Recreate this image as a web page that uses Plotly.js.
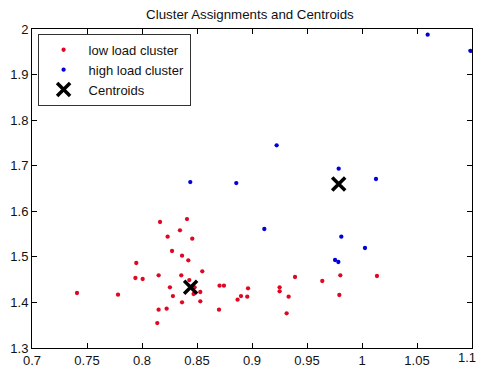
<!DOCTYPE html>
<html>
<head>
<meta charset="utf-8">
<script src="https://cdn.plot.ly/plotly-3.0.1.min.js"></script>
<style>html,body{margin:0;padding:0;background:#fff;}#chart{width:477px;height:368px;}</style>
</head>
<body>
<div id="chart"></div>
<script>
// Low load cluster (red)
var lowX = [0.7409,0.7782,0.7948,0.7940,0.8006,0.8164,0.8409,0.8345,0.8233,0.8457,0.8273,0.8364,0.8421,0.8151,0.8357,0.8548,0.8430,0.8254,0.8281,0.8364,0.8469,0.8478,0.8530,0.8530,0.8151,0.8224,0.8139,0.8700,0.8705,0.8745,0.8869,0.8900,0.8957,0.8964,0.9251,0.9251,0.9333,0.9315,0.9391,0.9639,0.9803,0.9794,1.0136];
var lowY = [1.4207,1.4170,1.4865,1.4536,1.4514,1.5765,1.5830,1.5582,1.5442,1.5398,1.5128,1.5025,1.4924,1.4595,1.4595,1.4683,1.4490,1.4332,1.4140,1.4003,1.4185,1.4332,1.4229,1.4025,1.3840,1.3862,1.3548,1.3840,1.4367,1.4367,1.4060,1.4140,1.4126,1.4310,1.4332,1.4244,1.4126,1.3761,1.4558,1.4470,1.4595,1.4163,1.4580];
// High load cluster (blue)
var highX = [0.8439,0.8857,0.9224,0.9788,1.0127,0.9112,0.9812,1.0027,0.9755,0.9785,1.0597,1.0985];
var highY = [1.6640,1.6620,1.7447,1.6935,1.6708,1.5611,1.5443,1.5194,1.4931,1.4887,1.9875,1.9520];
// Centroids
var centX = [0.8442,0.9788];
var centY = [1.4332,1.6599];
var seriesNames = ["low load cluster","high load cluster","Centroids"];
var xTicks = [0.7,0.75,0.8,0.85,0.9,0.95,1,1.05,1.1];
var xTickText = ["0.7","0.75","0.8","0.85","0.9","0.95","1","1.05",""];
var xEdgeTicks = [1.1];
var xEdgeTickText = ["1.1"];
var yTicks = [1.3,1.4,1.5,1.6,1.7,1.8,1.9,2];
var yTickText = ["1.3","1.4","1.5","1.6","1.7","1.8","1.9","2"];

var font = "Liberation Sans, Arial, Helvetica, sans-serif";
var traces = [
  {x: lowX, y: lowY, name: seriesNames[0], type: "scatter", mode: "markers",
   marker: {symbol: "circle", size: 4.3, color: "rgb(222,8,36)", line: {width: 0}}},
  {x: highX, y: highY, name: seriesNames[1], type: "scatter", mode: "markers",
   marker: {symbol: "circle", size: 4.3, color: "rgb(0,0,215)", line: {width: 0}}},
  {x: centX, y: centY, name: seriesNames[2], type: "scatter", mode: "markers", xaxis: "x2", yaxis: "y",
   marker: {symbol: "x-thin-open", size: 13, color: "#000", line: {width: 3.5, color: "#000"}}}
];
var axisCommon = {
  showgrid: false, zeroline: false, showline: true, linecolor: "#000", linewidth: 1,
  mirror: "ticks", ticks: "inside", ticklen: 5, tickcolor: "#000", tickwidth: 1,
  tickfont: {family: font, size: 13, color: "#111"}
};
var layout = {
  width: 477, height: 368,
  margin: {l: 32, r: 5, t: 29, b: 20},
  paper_bgcolor: "#fff", plot_bgcolor: "#fff",
  title: {text: "Cluster Assignments and Centroids", font: {family: font, size: 13.3, color: "#111"},
          x: 0.524, xanchor: "center", y: 0.96, yanchor: "middle"},
  xaxis: Object.assign({}, axisCommon, {range: [0.7, 1.1], tickvals: xTicks, ticktext: xTickText, ticklabeloverflow: "allow"}),
  xaxis2: {overlaying: "x", anchor: "y", side: "bottom", range: [0.7, 1.1], tickvals: xEdgeTicks, ticktext: xEdgeTickText,
           showgrid: false, zeroline: false, showline: false, ticks: "", ticklabelshift: -5, ticklabeloverflow: "allow",
           tickfont: {family: font, size: 13, color: "#111"}},
  yaxis: Object.assign({}, axisCommon, {range: [1.3, 2], tickvals: yTicks, ticktext: yTickText}),
  showlegend: true,
  legend: {x: 0.0127, y: 0.985, xanchor: "left", yanchor: "top", bgcolor: "#fff",
           bordercolor: "#333", borderwidth: 1, font: {family: font, size: 13, color: "#111"},
           tracegroupgap: 0, itemwidth: 40}
};
Plotly.newPlot("chart", traces, layout, {staticPlot: true, displayModeBar: false});
</script>
</body>
</html>
